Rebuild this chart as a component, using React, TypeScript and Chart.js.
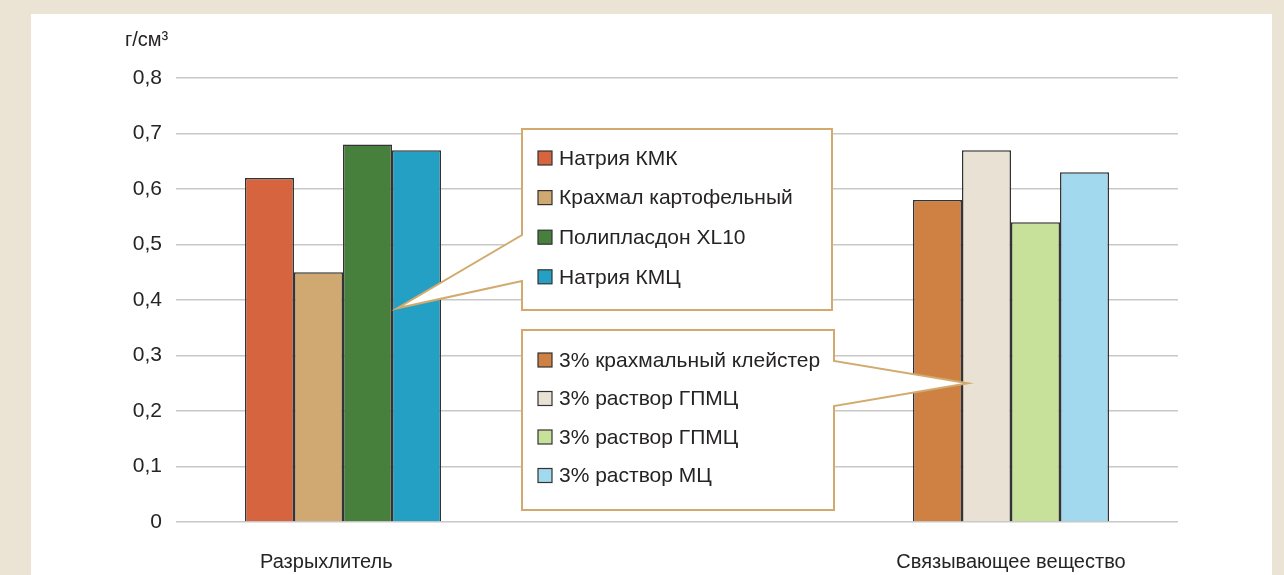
import React, { useEffect, useRef } from "react";
import { Chart, registerables } from "chart.js";

Chart.register(...registerables);

const categories = ["Разрыхлитель", "", "Связывающее вещество"];
const disintegrantNames = ["Натрия КМК", "Крахмал картофельный", "Полипласдон XL10", "Натрия КМЦ"];
const disintegrantValues = [0.62, 0.45, 0.68, 0.67];
const disintegrantColors = ["#d6643e", "#cfa872", "#47803c", "#25a0c5"];
const binderNames = ["3% крахмальный клейстер", "3% раствор ГПМЦ", "3% раствор ГПМЦ", "3% раствор МЦ"];
const binderValues = [0.58, 0.67, 0.54, 0.63];
const binderColors = ["#cf8144", "#e9e2d4", "#c7e09a", "#a2d9ee"];
const yTickLabels = ["0", "0,1", "0,2", "0,3", "0,4", "0,5", "0,6", "0,7", "0,8"];
const yUnit = "г/см³";

const FONT = "'Liberation Sans', Arial, sans-serif";
const TEXT = "#262324";
const TAN = "#d2aa6e";
const BEIGE = "#ebe3d4";

const decorPlugin = {
  id: "decor",
  beforeDraw(chart: any) {
    const ctx = chart.ctx;
    ctx.save();
    ctx.fillStyle = BEIGE;
    ctx.fillRect(0, 0, chart.width, chart.height);
    ctx.fillStyle = "#ffffff";
    ctx.fillRect(31, 14, 1241, chart.height - 14);
    ctx.fillStyle = TEXT;
    ctx.font = `20px ${FONT}`;
    ctx.textBaseline = "alphabetic";
    ctx.textAlign = "left";
    ctx.fillText(yUnit, 125, 46);
    ctx.restore();
  },
  afterDatasetsDraw(chart: any) {
    const ctx = chart.ctx;
    const y = chart.scales.y;
    const bar1 = chart.getDatasetMeta(3).data[0] as any;
    const bar2 = chart.getDatasetMeta(1).data[2] as any;
    const tip1x = bar1.x - bar1.width / 2 + 5;
    const tip1y = y.getPixelForValue(0.385);
    const tip2x = bar2.x - bar2.width / 2 + 6;
    const tip2y = y.getPixelForValue(0.25);
    ctx.save();
    ctx.lineWidth = 2;
    ctx.strokeStyle = TAN;
    ctx.fillStyle = "#ffffff";
    ctx.lineJoin = "miter";
    // box 1
    ctx.beginPath();
    ctx.moveTo(522, 235);
    ctx.lineTo(522, 129);
    ctx.lineTo(832, 129);
    ctx.lineTo(832, 310);
    ctx.lineTo(522, 310);
    ctx.lineTo(522, 281);
    ctx.lineTo(tip1x, tip1y);
    ctx.closePath();
    ctx.fill();
    ctx.stroke();
    // box 2
    ctx.beginPath();
    ctx.moveTo(834, 361);
    ctx.lineTo(834, 330);
    ctx.lineTo(522, 330);
    ctx.lineTo(522, 510);
    ctx.lineTo(834, 510);
    ctx.lineTo(834, 406);
    ctx.lineTo(tip2x, tip2y);
    ctx.closePath();
    ctx.fill();
    ctx.stroke();

    ctx.font = `21px ${FONT}`;
    ctx.textBaseline = "middle";
    ctx.textAlign = "left";
    const drawItems = (names: string[], colors: string[], top: number, step: number) => {
      names.forEach((n, i) => {
        const cy = top + i * step;
        ctx.fillStyle = colors[i];
        ctx.fillRect(538, cy - 7, 14, 14);
        ctx.lineWidth = 1.2;
        ctx.strokeStyle = "#333";
        ctx.strokeRect(538, cy - 7, 14, 14);
        ctx.fillStyle = TEXT;
        ctx.fillText(n, 559, cy + 1);
      });
    };
    drawItems(disintegrantNames, disintegrantColors, 158, 39.6);
    drawItems(binderNames, binderColors, 360, 38.5);
    ctx.restore();
  },
};

export default function App() {
  const ref = useRef<HTMLCanvasElement | null>(null);
  useEffect(() => {
    if (!ref.current) return;
    const datasets = disintegrantValues.map((v, i) => ({
      label: disintegrantNames[i],
      data: [v, null, binderValues[i]],
      backgroundColor: [disintegrantColors[i], disintegrantColors[i], binderColors[i]],
      borderColor: "#333333",
      borderWidth: 1.5,
      barPercentage: 1,
      categoryPercentage: 0.587,
    }));
    const chart = new Chart(ref.current, {
      type: "bar",
      data: { labels: categories, datasets: datasets as any },
      plugins: [decorPlugin],
      options: {
        animation: false,
        responsive: false,
        devicePixelRatio: 1,
        layout: { padding: { left: 100, right: 106, top: 78, bottom: 0 } },
        plugins: { legend: { display: false }, tooltip: { enabled: false } },
        scales: {
          x: {
            grid: { display: false, drawTicks: false },
            border: { display: false },
            ticks: {
              color: TEXT,
              font: { family: FONT, size: 20 },
              padding: 28,
              maxRotation: 0,
              autoSkip: false,
              callback: (_v: any, i: number) => (i === 0 ? categories[i] + "      " : categories[i]),
            },
            afterFit: (s: any) => { s.height = 53; },
          },
          y: {
            min: 0,
            max: 0.8,
            grid: { color: "#c8c8c8", lineWidth: 1.5, drawTicks: false },
            border: { display: false },
            ticks: {
              stepSize: 0.1,
              color: TEXT,
              font: { family: FONT, size: 21 },
              padding: 14,
              callback: (_v: any, i: number) => yTickLabels[i],
            },
            afterFit: (s: any) => { s.width = 76; },
          },
        },
      },
    });
    return () => chart.destroy();
  }, []);
  return (
    <div style={{ position: "fixed", left: 0, top: 0, width: 1284, height: 575 }}>
      <canvas ref={ref} width={1284} height={575} />
    </div>
  );
}
